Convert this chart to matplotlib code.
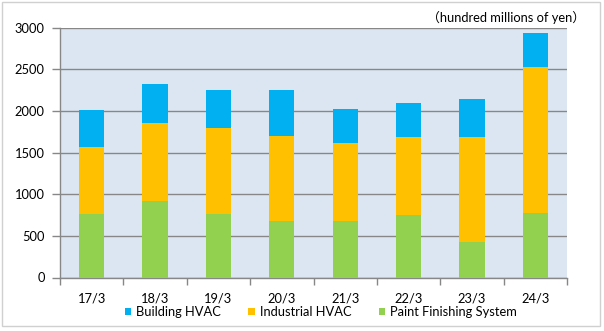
import matplotlib
matplotlib.use("Agg")
import matplotlib.pyplot as plt
from matplotlib.patches import Rectangle
import numpy as np

plt.rcParams['font.family'] = ['Lato', 'Noto Sans CJK JP', 'DejaVu Sans']

categories = ["17/3", "18/3", "19/3", "20/3", "21/3", "22/3", "23/3", "24/3"]
paint_finishing = [765, 920, 765, 680, 680, 750, 430, 775]
industrial_hvac = [800, 935, 1030, 1025, 935, 940, 1260, 1750]
building_hvac = [445, 470, 455, 545, 410, 405, 450, 410]
yticks = [0, 500, 1000, 1500, 2000, 2500, 3000]

W, H = 604, 331
FS = 9.3
fig = plt.figure(figsize=(W / 100, H / 100), dpi=100)
fig.patch.set_facecolor("white")

# outer chart frame
fig.patches.append(Rectangle((2 / W, 5 / H), 598 / W, 324 / H, transform=fig.transFigure,
                             fill=False, edgecolor="#D0D0D0", linewidth=1.0))

left, right = 60 / W, 567 / W
bottom, top = (H - 277.5) / H, (H - 27.7) / H
ax = fig.add_axes([left, bottom, right - left, top - bottom])
ax.set_facecolor("#DCE6F2")

x = np.arange(len(categories))
bw = 0.4
green = "#92D050"
yellow = "#FFC000"
blue = "#00B0F0"
ax.bar(x, paint_finishing, bw, color=green, zorder=3, label="Paint Finishing System")
ax.bar(x, industrial_hvac, bw, bottom=paint_finishing, color=yellow, zorder=3, label="Industrial HVAC")
base2 = np.array(paint_finishing) + np.array(industrial_hvac)
ax.bar(x, building_hvac, bw, bottom=base2, color=blue, zorder=3, label="Building HVAC")

ax.set_xlim(-0.5, len(categories) - 0.5)
ax.set_ylim(0, 3000)
ax.set_yticks(yticks)
ax.set_yticklabels([str(v) for v in yticks])
ax.yaxis.grid(True, color="#878787", linewidth=1.0, zorder=1)
ax.set_axisbelow(True)

for s in ["top", "right"]:
    ax.spines[s].set_visible(False)
for s in ["left", "bottom"]:
    ax.spines[s].set_color("#878787")
    ax.spines[s].set_linewidth(1.0)

ax.tick_params(axis="y", length=6, width=1, color="#878787", labelsize=FS, pad=5)
ax.set_xticks(np.arange(-0.5, len(categories), 1.0))
ax.set_xticklabels([])
ax.tick_params(axis="x", length=5, width=1, color="#878787")
ax.set_xticks(x, minor=True)
ax.set_xticklabels(categories, minor=True)
ax.tick_params(axis="x", which="minor", length=0, labelsize=FS, pad=11)

fig.text(585 / W, (H - 17.5) / H, "（hundred millions of yen）", ha="right", va="center", fontsize=FS)

handles, labels = ax.get_legend_handles_labels()
order = [2, 1, 0]
leg = fig.legend([handles[i] for i in order], [labels[i] for i in order],
                 loc="center", bbox_to_anchor=(321 / W, (H - 312) / H), ncol=3, frameon=False,
                 fontsize=FS, handlelength=0.5, handleheight=0.5, handletextpad=0.4,
                 columnspacing=2.1)

fig.savefig("out.png", dpi=100)
